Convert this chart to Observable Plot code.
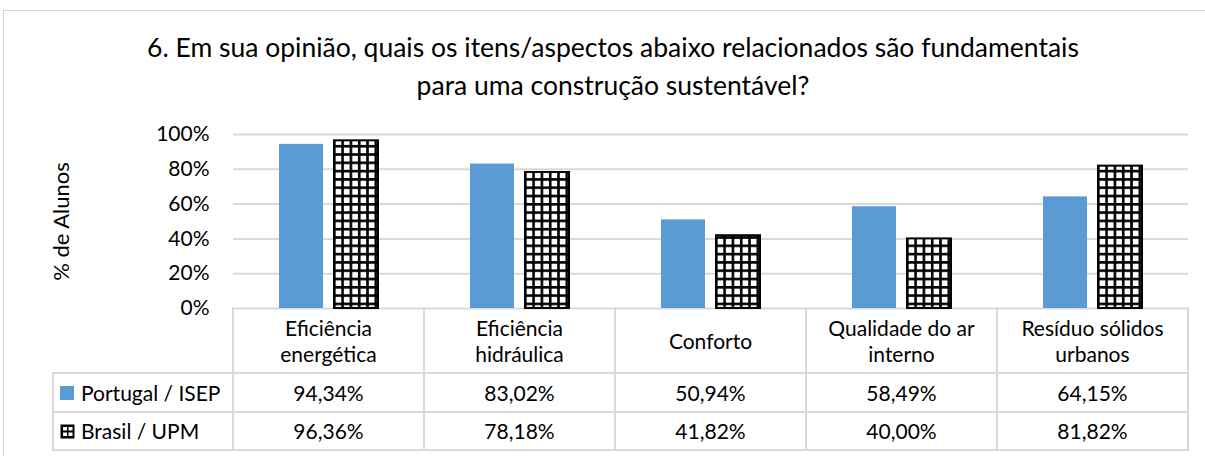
<!DOCTYPE html>
<html><head><meta charset="utf-8">
<script src="https://cdn.jsdelivr.net/npm/d3@7"></script>
<script src="https://cdn.jsdelivr.net/npm/@observablehq/plot@0.6"></script>
<style>
body{margin:0;background:#fff;font-family:Lato,"DejaVu Sans",sans-serif;}
#wrap{position:relative;width:1205px;height:456px;overflow:hidden;background:#fff;}
#border{position:absolute;left:3px;top:10px;width:1300px;height:500px;border:1px solid #d4d4d4;box-sizing:border-box}
#title{position:absolute;left:0;top:28px;width:1226px;text-align:center;font-size:26.5px;line-height:38px;color:#000}
#chart{position:absolute;left:0;top:120px}
.cell{position:absolute;display:flex;align-items:center;justify-content:center;text-align:center;font-size:21px;line-height:26px;color:#000;box-sizing:border-box;}
.leg{justify-content:flex-start;}
.ln{position:absolute;background:#d9d9d9}
</style></head>
<body>
<svg width="0" height="0" style="position:absolute">
  <defs>
    <pattern id="hatch" patternUnits="userSpaceOnUse" width="8.3" height="8.3" x="0" y="0">
      <rect width="8.3" height="8.3" fill="#fff"></rect>
      <rect x="0" y="0" width="8.3" height="2.6" fill="#000"></rect>
      <rect x="0" y="0" width="2.6" height="8.3" fill="#000"></rect>
    </pattern>
  </defs>
</svg>
<div id="wrap">
  <div id="border"></div>
  <div id="title"></div>
  <div id="chart"></div>
  <div id="table"></div>
</div>
<script>
const titleLines = ["6. Em sua opinião, quais os itens/aspectos abaixo relacionados são fundamentais", "para uma construção sustentável?"];
const categories = ["Eficiência energética", "Eficiência hidráulica", "Conforto", "Qualidade do ar interno", "Resíduo sólidos urbanos"];
const categoryLines = [["Eficiência", "energética"], ["Eficiência", "hidráulica"], ["Conforto"], ["Qualidade do ar", "interno"], ["Resíduo sólidos", "urbanos"]];
const series = ["Portugal / ISEP", "Brasil / UPM"];
const portugal = [94.34, 83.02, 50.94, 58.49, 64.15];
const brasil = [96.36, 78.18, 41.82, 40.00, 81.82];
const yTicks = [0, 20, 40, 60, 80, 100];
const yLabel = "% de Alunos";

const seriesValues = [portugal, brasil];
const data = [];
series.forEach((s, si) => categories.forEach((c, ci) => data.push({series: s, category: c, value: seriesValues[si][ci]})));

document.getElementById("title").innerHTML = titleLines.join("<br>");

const chart = Plot.plot({
  width: 1205, height: 188,
  marginTop: 14, marginBottom: 0, marginLeft: 232, marginRight: 17,
  style: {fontFamily: "Lato, sans-serif", fontSize: "21px", color: "#000", background: "transparent", overflow: "visible"},
  fx: {domain: categories, padding: 0, axis: null, label: null},
  x: {domain: series, paddingInner: 0.2, paddingOuter: 0.836, axis: null, label: null},
  y: {domain: [0, 100], ticks: yTicks, tickFormat: d => d + "%", tickSize: 0, tickPadding: 24, label: null},
  marks: [
    Plot.ruleY(yTicks, {stroke: "#d9d9d9", strokeOpacity: 1, strokeWidth: 2}),
    Plot.barY(data.filter(d => d.series === series[0]), {fx: "category", x: "series", y: "value", fill: "#5b9bd5"}),
    Plot.barY(data.filter(d => d.series === series[1]), {fx: "category", x: "series", y: "value", fill: "url(#hatch)", stroke: "#000", strokeWidth: 2}),
    Plot.text([yLabel], {fx: () => categories[0], text: d => d, frameAnchor: "left", textAnchor: "middle", dx: -172, rotate: -90, fontSize: 22, fill: "#000"})
  ]
});
document.getElementById("chart").appendChild(chart);

// Data table aligned to the fx scale
const fxs = chart.scale("fx");
const bw = fxs.bandwidth;
const tbl = document.getElementById("table");
const top0 = 120 + 188, headBot = 373, rowBots = [412, 450], legLeft = 53;
const plotLeft = fxs.apply(categories[0]);
const plotRight = fxs.apply(categories[categories.length - 1]) + bw;
const fmt = v => v.toFixed(2).replace(".", ",") + "%";
function add(html, cls, l, t, w, h) {
  const d = document.createElement("div");
  d.className = cls;
  d.style.left = l + "px"; d.style.top = t + "px"; d.style.width = w + "px"; d.style.height = h + "px";
  d.innerHTML = html;
  tbl.appendChild(d);
}
categories.forEach((c, i) => {
  const l = fxs.apply(c);
  add(categoryLines[i].join("<br>"), "cell", l, top0, bw, headBot - top0);
  seriesValues.forEach((vals, si) => {
    const t = si === 0 ? headBot : rowBots[0];
    add(fmt(vals[i]), "cell", l, t, bw, rowBots[si] - t);
  });
});
const swatches = [
  '<span style="display:inline-block;width:14px;height:14px;background:#5b9bd5;margin:0 7px 0 7px"></span>',
  '<svg width="15" height="15" style="margin:0 6px 0 7px"><rect x="0.5" y="0.5" width="14" height="14" fill="#000"/><rect x="3" y="3" width="4" height="3.5" fill="#fff"/><rect x="8.5" y="3" width="4" height="3.5" fill="#fff"/><rect x="3" y="8.5" width="4" height="3.5" fill="#fff"/><rect x="8.5" y="8.5" width="4" height="3.5" fill="#fff"/></svg>'
];
series.forEach((s, si) => {
  const t = si === 0 ? headBot : rowBots[0];
  add(swatches[si] + "<span>" + s + "</span>", "cell leg", legLeft, t, plotLeft - legLeft, rowBots[si] - t);
});
// grid lines of table
[headBot, rowBots[0], rowBots[1]].forEach(y => add("", "ln", legLeft - 1, y - 1, plotRight - legLeft + 2, 2));
categories.forEach(c => add("", "ln", fxs.apply(c) - 1, top0 - 1, 2, rowBots[1] - top0 + 2));
add("", "ln", plotRight - 1, top0 - 1, 2, rowBots[1] - top0 + 2);
add("", "ln", legLeft - 1, headBot - 1, 2, rowBots[1] - headBot + 2);
</script>
</body></html>
